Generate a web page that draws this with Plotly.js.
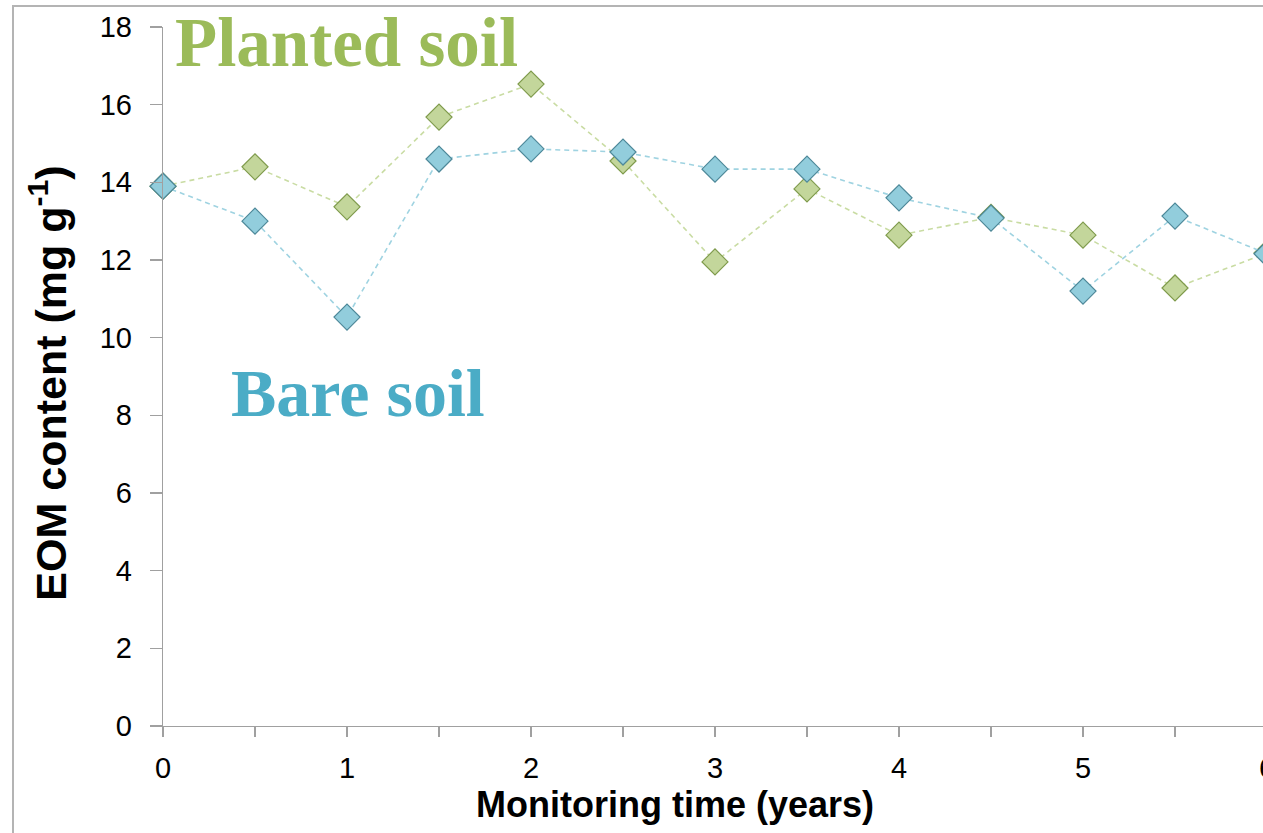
<!DOCTYPE html>
<html>
<head>
<meta charset="utf-8">
<script src="https://cdn.plot.ly/plotly-3.0.1.min.js"></script>
<style>
html, body { margin: 0; padding: 0; overflow: hidden; background: #fff; width: 1263px; height: 833px; }
#frame { position: absolute; left: 12px; top: 5px; width: 1300px; height: 900px; border-left: 2px solid #b4b4b4; border-top: 2px solid #b4b4b4; pointer-events: none; z-index: 5; }
#chart { position: absolute; left: 0; top: 0; }
</style>
</head>
<body>
<div id="chart"></div>
<div id="frame"></div>
<script>
// Monitoring time (years)
const years = [0, 0.5, 1, 1.5, 2, 2.5, 3, 3.5, 4, 4.5, 5, 5.5, 6];
// EOM content (mg g-1)
const plantedSoil = [13.9, 14.4, 13.37, 15.68, 16.53, 14.55, 11.95, 13.83, 12.64, 13.1, 12.64, 11.28, 12.18];
const bareSoil    = [13.9, 13.0, 10.53, 14.6, 14.86, 14.78, 14.34, 14.34, 13.6, 13.08, 11.2, 13.13, 12.16];
// axis ticks
const xTickVals = [0, 1, 2, 3, 4, 5, 6];
const xTickText = ['0', '1', '2', '3', '4', '5', '6'];
const yTickVals = [0, 2, 4, 6, 8, 10, 12, 14, 16, 18];

const sansBold = '"Liberation Sans", Arial, sans-serif';
const tickFont = { family: '"Liberation Sans", Arial, sans-serif', size: 29, color: '#000' };

const traces = [
  {
    x: years, y: plantedSoil, name: 'Planted soil', type: 'scatter', mode: 'lines+markers',
    cliponaxis: false,
    line: { color: '#c9dca3', width: 1.6, dash: '5px,4px' },
    marker: { symbol: 'diamond', size: 20, color: '#c3d69b', line: { color: '#7f9b4c', width: 1.2 } }
  },
  {
    x: years, y: bareSoil, name: 'Bare soil', type: 'scatter', mode: 'lines+markers',
    cliponaxis: false,
    line: { color: '#9fd3e1', width: 1.6, dash: '5px,4px' },
    marker: { symbol: 'diamond', size: 20, color: '#92cddc', line: { color: '#4d8899', width: 1.2 } }
  }
];

const layout = {
  width: 1290, height: 833,
  margin: { l: 163, r: 23, t: 27, b: 107 },
  paper_bgcolor: '#fff', plot_bgcolor: '#fff',
  showlegend: false,
  xaxis: {
    range: [0, 6], tickmode: 'array', tickvals: xTickVals, ticktext: xTickText,
    showgrid: false, zeroline: false, showline: true, linecolor: '#a0a0a0', linewidth: 1.3,
    ticks: 'outside', ticklen: 10, tickwidth: 1.3, tickcolor: '#a0a0a0',
    minor: { dtick: 0.5, ticks: 'outside', ticklen: 10, tickwidth: 1.3, tickcolor: '#a0a0a0', showgrid: false },
    tickfont: tickFont, ticklabelstandoff: 6
  },
  yaxis: {
    range: [0, 18], tickmode: 'array', tickvals: yTickVals,
    showgrid: false, zeroline: false, showline: true, linecolor: '#a0a0a0', linewidth: 1.3,
    ticks: 'outside', ticklen: 12, tickwidth: 1.3, tickcolor: '#a0a0a0',
    tickfont: tickFont, ticklabelstandoff: 12
  },
  annotations: [
    { text: '<b>Planted soil</b>', xref: 'x', yref: 'y', x: 0.055, y: 17.58, xanchor: 'left', yanchor: 'middle',
      showarrow: false, font: { family: '"Liberation Serif", "Times New Roman", serif', size: 69, color: '#9bbb59' } },
    { text: '<b>Bare soil</b>', xref: 'x', yref: 'y', x: 0.36, y: 8.58, xanchor: 'left', yanchor: 'middle',
      showarrow: false, font: { family: '"Liberation Serif", "Times New Roman", serif', size: 68, color: '#4bacc6' } },
    { text: '<b>Monitoring time (years)</b>', xref: 'paper', yref: 'paper', x: (675 - 163) / 1104, y: -0.112,
      xanchor: 'center', yanchor: 'middle', showarrow: false, font: { family: sansBold, size: 36, color: '#000' } },
    { text: '<b>EOM content (mg g<sup>-1</sup>)</b>', xref: 'paper', yref: 'paper', x: -0.104, y: 0.49,
      xanchor: 'center', yanchor: 'middle', textangle: -90, showarrow: false,
      font: { family: sansBold, size: 43, color: '#000' } }
  ]
};

Plotly.newPlot('chart', traces, layout, { displayModeBar: false, staticPlot: true });
</script>
</body>
</html>
